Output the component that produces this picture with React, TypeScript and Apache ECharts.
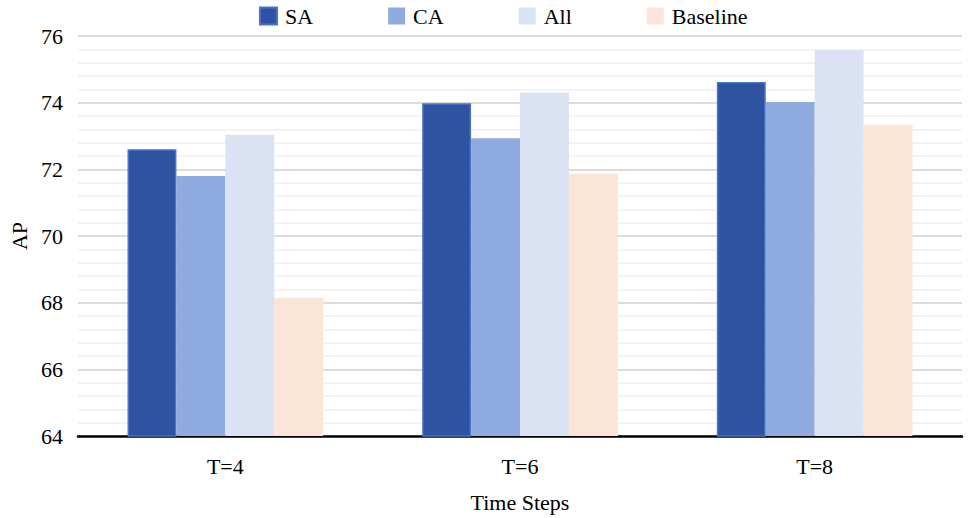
import React, { useEffect, useRef } from "react";
import * as echarts from "echarts";

const categories = ["T=4", "T=6", "T=8"];
const saValues = [72.6, 73.98, 74.62];
const caValues = [71.8, 72.93, 74.02];
const allValues = [73.04, 74.3, 75.58];
const baselineValues = [68.15, 71.87, 73.34];
const yTicks = { min: 64, max: 76, interval: 2 };

const FONT = "'Liberation Serif', 'Times New Roman', serif";

export default function App() {
  const ref = useRef<HTMLDivElement>(null);
  useEffect(() => {
    if (!ref.current) return;
    const chart = echarts.init(ref.current, undefined, { renderer: "svg" });
    const mk = (name: string, data: number[], color: string, border?: string) => ({
      name,
      type: "bar",
      data,
      barGap: "0%",
      barCategoryGap: "33.6%",
      itemStyle: border
        ? { color, borderColor: border, borderWidth: 1.5 }
        : { color },
    });
    chart.setOption({
      animation: false,
      backgroundColor: "#ffffff",
      textStyle: { fontFamily: FONT },
      legend: {
        top: 0,
        left: 254,
        itemWidth: 17,
        itemHeight: 17,
        itemGap: 75,
        icon: "rect",
        textStyle: { fontFamily: FONT, fontSize: 22, color: "#000", padding: [0, 0, 0, 3] },
        data: ["SA", "CA", "All", "Baseline"],
      },
      grid: { left: 77, right: 10, top: 36, bottom: 82, containLabel: false },
      xAxis: {
        type: "category",
        data: categories,
        name: "Time Steps",
        nameLocation: "middle",
        nameGap: 55,
        nameTextStyle: { fontFamily: FONT, fontSize: 22, color: "#000" },
        axisLine: { lineStyle: { color: "#000", width: 2.5 } },
        axisTick: { show: false },
        axisLabel: { fontFamily: FONT, fontSize: 22, color: "#000", margin: 19 },
      },
      yAxis: {
        type: "value",
        min: yTicks.min,
        max: yTicks.max,
        interval: yTicks.interval,
        name: "AP",
        nameLocation: "middle",
        nameGap: 48,
        nameRotate: 90,
        nameTextStyle: { fontFamily: FONT, fontSize: 22, color: "#000" },
        axisLine: { show: false },
        axisTick: { show: false },
        axisLabel: { fontFamily: FONT, fontSize: 22, color: "#000", margin: 15 },
        splitLine: { lineStyle: { color: "#d0d0d0", width: 1.5 } },
        minorTick: { show: false, splitNumber: 5 },
        minorSplitLine: { show: true, lineStyle: { color: "#efefef", width: 1.5 } },
      },
      series: [
        mk("SA", saValues, "#2E54A1", "#4A72C8"),
        mk("CA", caValues, "#8FABE0"),
        mk("All", allValues, "#DAE2F4"),
        mk("Baseline", baselineValues, "#FBE5D6"),
      ],
    });
    return () => chart.dispose();
  }, []);
  return (
    <div
      ref={ref}
      style={{ position: "absolute", left: 0, top: 0, width: 972, height: 518 }}
    />
  );
}
